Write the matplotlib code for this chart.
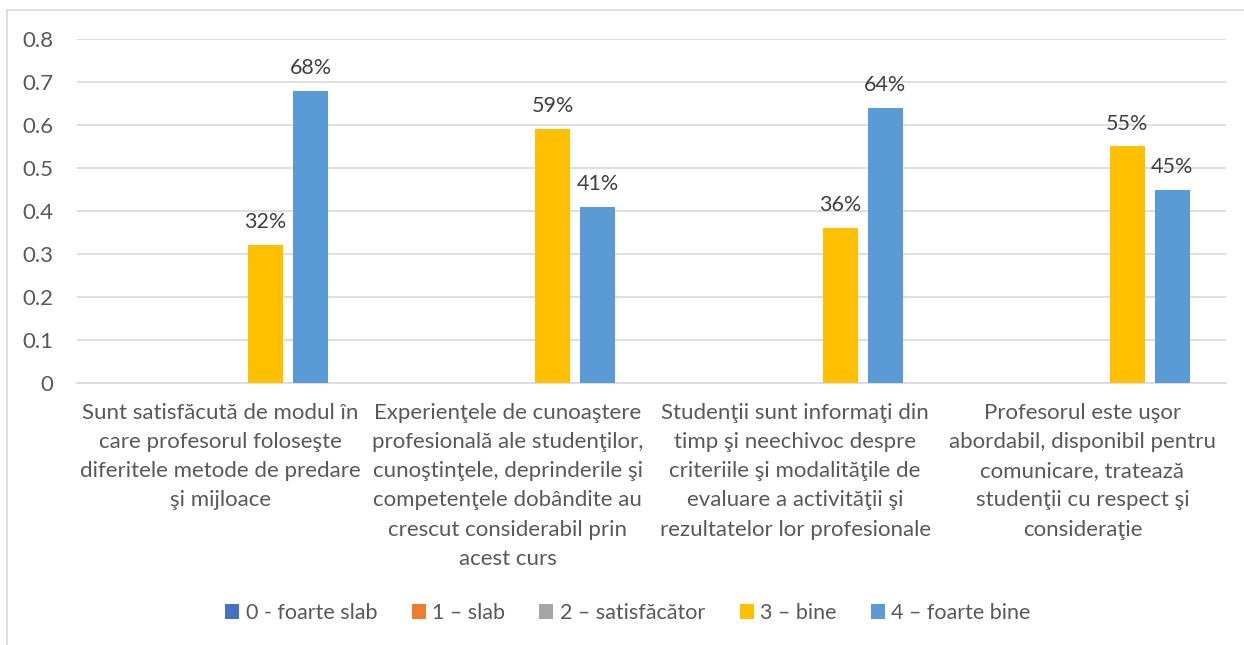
import numpy as np
import matplotlib.pyplot as plt
from matplotlib.lines import Line2D

categories = [
    "Sunt satisfăcută de modul în\ncare profesorul foloseşte\ndiferitele metode de predare\nşi mijloace",
    "Experienţele de cunoaştere\nprofesională ale studenţilor,\ncunoştinţele, deprinderile şi\ncompetenţele dobândite au\ncrescut considerabil prin\nacest curs",
    "Studenţii sunt informaţi din\ntimp şi neechivoc despre\ncriteriile şi modalităţile de\nevaluare a activităţii şi\nrezultatelor lor profesionale",
    "Profesorul este uşor\nabordabil, disponibil pentru\ncomunicare, tratează\nstudenţii cu respect şi\nconsideraţie",
]
series_names = ["0 - foarte slab", "1 – slab", "2 – satisfăcător", "3 – bine", "4 – foarte bine"]
s0 = [0, 0, 0, 0]
s1 = [0, 0, 0, 0]
s2 = [0, 0, 0, 0]
s3 = [0.32, 0.59, 0.36, 0.55]
s4 = [0.68, 0.41, 0.64, 0.45]
yticks = [0, 0.1, 0.2, 0.3, 0.4, 0.5, 0.6, 0.7, 0.8]

colors = ["#4472C4", "#ED7D31", "#A5A5A5", "#FFC000", "#5B9BD5"]
text_color = "#595959"
grid_color = "#D9D9D9"

plt.rcParams['font.family'] = ['Lato', 'DejaVu Sans']

fig = plt.figure(figsize=(12.44, 6.45), dpi=100)
ax = fig.add_axes([77 / 1244, 1 - 383 / 645, (1226 - 77) / 1244, (383 - 39) / 645])

x = np.arange(len(categories))
step = 0.1567
width = 0.1218
all_series = [s0, s1, s2, s3, s4]
for i, (vals, name, col) in enumerate(zip(all_series, series_names, colors)):
    pos = x + (i - 2) * step
    bars = ax.bar(pos, vals, width=width, color=col, label=name, zorder=3)
    if i >= 3:
        for b, v in zip(bars, vals):
            ax.text(b.get_x() + b.get_width() / 2, v + 0.03, f"{round(v * 100)}%",
                    ha="center", va="bottom", fontsize=15.5, color="#404040")

ax.set_xlim(-0.5, len(categories) - 0.5)
ax.set_ylim(0, 0.8)
ax.set_yticks(yticks)
ax.set_yticklabels([f"{t:g}" for t in yticks], fontsize=16)
ax.set_xticks(x)
ax.set_xticklabels(categories, linespacing=1.57, fontsize=16)
ax.tick_params(axis="both", length=0, colors=text_color)
ax.tick_params(axis="y", pad=17)
ax.tick_params(axis="x", pad=14.5)
ax.grid(axis="y", color=grid_color, linewidth=1.2, zorder=0)
for side in ["top", "right", "left"]:
    ax.spines[side].set_visible(False)
ax.spines["bottom"].set_color(grid_color)
ax.spines["bottom"].set_linewidth(1.2)

leg = fig.legend(loc="center", bbox_to_anchor=(628 / 1244, 1 - 613 / 645), ncol=5,
                 frameon=False, fontsize=15.5, handlelength=0.65, handleheight=0.65,
                 handletextpad=0.3, columnspacing=1.6)
for t in leg.get_texts():
    t.set_color(text_color)

# chart border (cropped at right and bottom)
fig.add_artist(Line2D([7 / 1244, 7 / 1244], [0, 1 - 10 / 645], color=grid_color, lw=1.2))
fig.add_artist(Line2D([7 / 1244, 1], [1 - 10 / 645, 1 - 10 / 645], color=grid_color, lw=1.2))

fig.savefig("out.png", dpi=100)
